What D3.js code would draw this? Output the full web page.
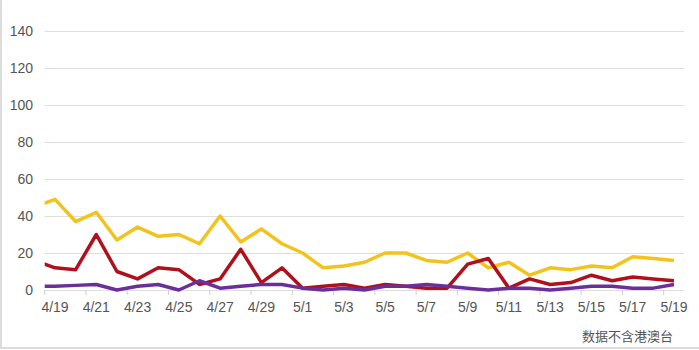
<!DOCTYPE html>
<html>
<head>
<meta charset="utf-8">
<script src="https://cdn.jsdelivr.net/npm/d3@7"></script>
<style>
  html, body { margin: 0; padding: 0; background: #fff; }
  svg { display: block; font-family: "Liberation Sans", Arial, sans-serif; }
</style>
</head>
<body>
<svg id="chart" width="699" height="350"></svg>
<script>
const dates = ["4/18","4/19","4/20","4/21","4/22","4/23","4/24","4/25","4/26","4/27","4/28","4/29","4/30",
  "5/1","5/2","5/3","5/4","5/5","5/6","5/7","5/8","5/9","5/10","5/11","5/12","5/13","5/14","5/15","5/16","5/17","5/18","5/19"];
const seriesYellow = [45,49,37,42,27,34,29,30,25,40,26,33,25,20,12,13,15,20,20,16,15,20,12,15,8,12,11,13,12,18,17,16];
const seriesRed    = [16,12,11,30,10,6,12,11,3,6,22,4,12,1,2,3,1,3,2,1,1,14,17,1,6,3,4,8,5,7,6,5];
const seriesPurple = [2,2,2.5,3,0,2,3,0,5,1,2,3,3,1,0,1,0,2,2,3,2,1,0,1,1,0,1,2,2,1,1,3];
const yTicks = [0,20,40,60,80,100,120,140];
const tickLabels = ["4/19","4/21","4/23","4/25","4/27","4/29","5/1","5/3","5/5","5/7","5/9","5/11","5/13","5/15","5/17","5/19"];
const note = "数据不含港澳台";

const svg = d3.select("#chart");
const x = d3.scalePoint().domain(dates).range([34.4, 674]).padding(0);
const step = x.step();
const plotLeft = x("4/19") - step / 2;
const plotRight = x("5/19") + step / 2;
const y = d3.scaleLinear().domain([0, 140]).range([290, 31]);

// borders
svg.append("line").attr("x1", 1).attr("x2", 1).attr("y1", 0).attr("y2", 348)
  .attr("stroke", "#dcdcdc").attr("stroke-width", 2);
svg.append("line").attr("x1", 0).attr("x2", 699).attr("y1", 348).attr("y2", 348)
  .attr("stroke", "#dcdcdc").attr("stroke-width", 2);

// gridlines + y labels
const yAxis = d3.axisLeft(y).tickValues(yTicks).tickSize(-(plotRight - plotLeft)).tickPadding(10);
const gy = svg.append("g").attr("transform", `translate(${plotLeft},0)`).call(yAxis);
gy.select(".domain").remove();
gy.selectAll(".tick line").attr("stroke", "#dedede").attr("stroke-width", 1);
gy.selectAll(".tick text").attr("fill", "#555").attr("font-size", 14).attr("x", 33 - plotLeft);

// x axis ticks (at category boundaries) and labels
const gx = svg.append("g");
gx.selectAll("line.xt").data(tickLabels).join("line")
  .attr("x1", d => x(d) - step / 2).attr("x2", d => x(d) - step / 2)
  .attr("y1", 290).attr("y2", 295).attr("stroke", "#cfcfcf").attr("stroke-width", 1);
gx.selectAll("text").data(tickLabels).join("text")
  .attr("x", d => x(d)).attr("y", 312).attr("text-anchor", "middle")
  .attr("font-size", 14).attr("fill", "#555").text(d => d);

// clip
svg.append("clipPath").attr("id", "clip").append("rect")
  .attr("x", plotLeft).attr("y", 0).attr("width", plotRight - plotLeft).attr("height", 300);

const line = d3.line().x((d, i) => x(dates[i])).y(d => y(d));
const g = svg.append("g").attr("clip-path", "url(#clip)");
[[seriesYellow, "#f2c31c"], [seriesRed, "#b0101c"], [seriesPurple, "#6b2f9c"]].forEach(([data, color]) => {
  g.append("path").datum(data).attr("d", line).attr("fill", "none")
    .attr("stroke", color).attr("stroke-width", 3.5).attr("stroke-linejoin", "round");
});

svg.append("text").attr("x", 673).attr("y", 341).attr("text-anchor", "end")
  .attr("font-size", 13).attr("fill", "#555")
  .attr("font-family", "'Noto Sans CJK SC', sans-serif").text(note);
</script>
</body>
</html>
